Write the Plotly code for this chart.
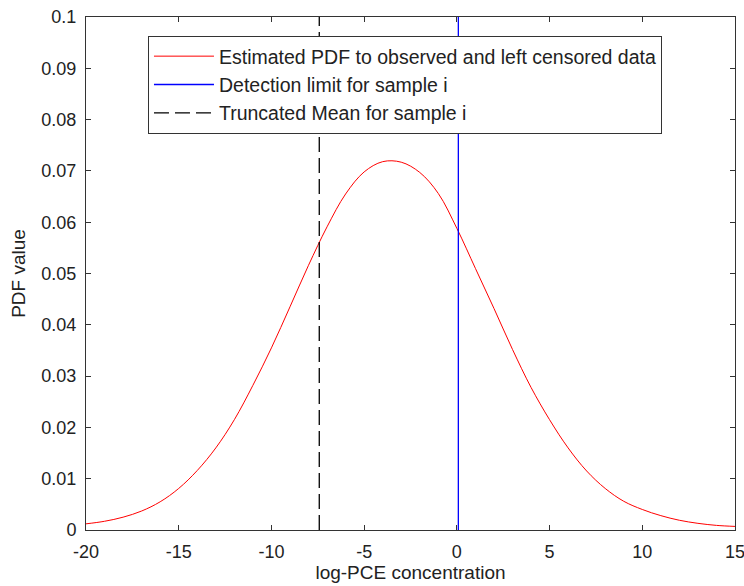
import plotly.graph_objects as go

# Data
x_vals = list(range(-20, 16))
pdf_vals = [0.0012, 0.0017, 0.0025, 0.0037, 0.0055, 0.0081, 0.0116, 0.0160,
            0.0215, 0.0282, 0.0355, 0.0435, 0.0516, 0.0591, 0.0655, 0.0698,
            0.0718, 0.0717, 0.0697, 0.0656, 0.0588, 0.0510, 0.0432, 0.0352,
            0.0278, 0.0215, 0.0160, 0.0115, 0.0081, 0.0056, 0.0040, 0.0028,
            0.0019, 0.0013, 0.0009, 0.0007]
detection_limit = 0.08
truncated_mean = -7.42
y_span = [0, 0.1]

x_tickvals = [-20, -15, -10, -5, 0, 5, 10, 15]
x_ticktext = ["-20", "-15", "-10", "-5", "0", "5", "10", "15"]
y_tickvals = [0, 0.01, 0.02, 0.03, 0.04, 0.05, 0.06, 0.07, 0.08, 0.09, 0.1]
y_ticktext = ["0", "0.01", "0.02", "0.03", "0.04", "0.05", "0.06", "0.07", "0.08", "0.09", "0.1"]

font_family = "Liberation Sans, Arial, sans-serif"
txt_color = "#222222"

fig = go.Figure()
fig.add_trace(go.Scatter(
    x=x_vals, y=pdf_vals, mode="lines", line=dict(color="#ff0000", width=1, shape="spline"),
    name="Estimated PDF to observed and left censored data"))
fig.add_trace(go.Scatter(
    x=[detection_limit, detection_limit], y=y_span, mode="lines",
    line=dict(color="#0000ff", width=1.3), name="Detection limit for sample i"))
fig.add_trace(go.Scatter(
    x=[truncated_mean, truncated_mean], y=y_span, mode="lines",
    line=dict(color="#000000", width=1.3, dash="15px,6px"), name="Truncated Mean for sample i"))

axis_common = dict(
    showline=True, linecolor="#333333", linewidth=1, mirror="ticks",
    ticks="inside", ticklen=5, tickcolor="#333333", showgrid=False, zeroline=False,
    tickfont=dict(family=font_family, size=18, color=txt_color),
    automargin=False, ticklabelstandoff=5, ticklabeloverflow="allow",
)

fig.update_layout(
    width=744, height=586,
    margin=dict(l=86, r=9, t=17, b=56),
    paper_bgcolor="white", plot_bgcolor="white",
    font=dict(family=font_family, size=18, color=txt_color),
    xaxis=dict(range=[-20, 15], tickmode="array", tickvals=x_tickvals, ticktext=x_ticktext,
               title=dict(text="log-PCE concentration", standoff=4,
                          font=dict(family=font_family, size=19, color=txt_color)),
               **axis_common),
    yaxis=dict(range=[0, 0.1], tickmode="array", tickvals=y_tickvals, ticktext=y_ticktext,
               title=dict(text="PDF value", standoff=10,
                          font=dict(family=font_family, size=19, color=txt_color)),
               **axis_common),
    legend=dict(x=0.0955, y=0.963, xanchor="left", yanchor="top",
                bgcolor="white", bordercolor="#333333", borderwidth=1,
                font=dict(family=font_family, size=19.5, color=txt_color),
                itemwidth=60, tracegroupgap=0),
    showlegend=True,
)

# remove the default 8px page margin so the figure fills the window exactly
fig.write_html("out.html", config={"displayModeBar": False},
               post_script="document.body.style.margin='0px';")
